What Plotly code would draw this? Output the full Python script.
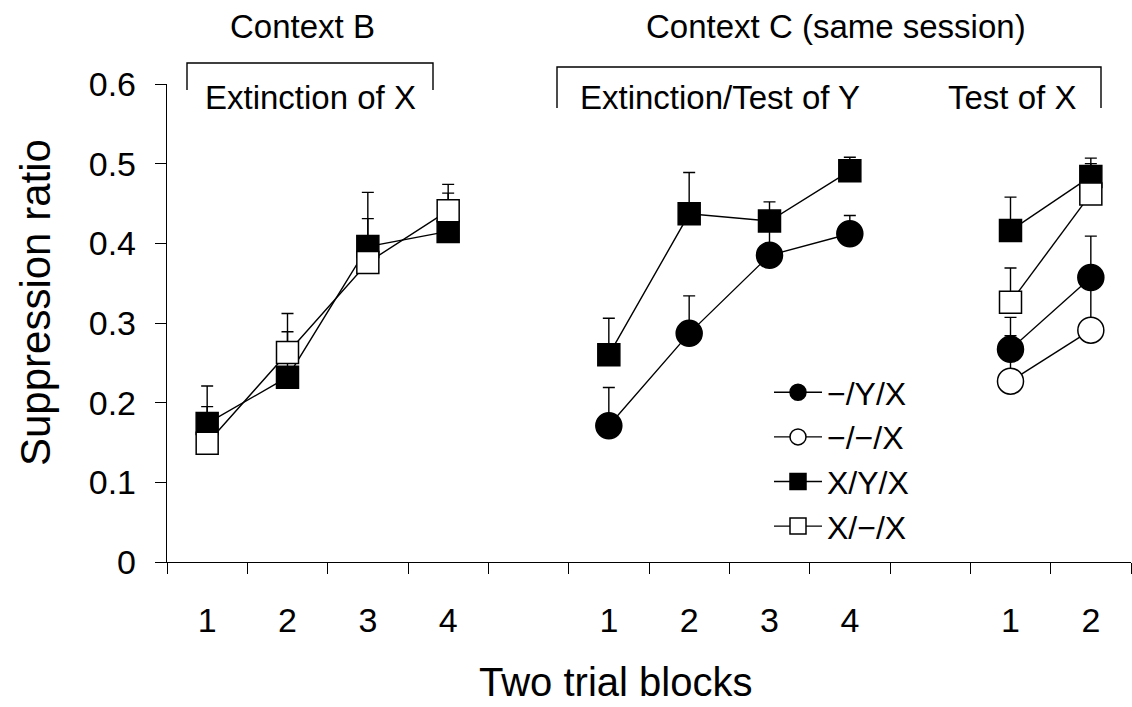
import plotly.graph_objects as go

# ---------------- data ----------------
x_pos = list(range(12))
block_labels = ["1", "2", "3", "4", "", "1", "2", "3", "4", "", "1", "2"]
boundaries = [i - 0.5 for i in range(13)]

series_names = ["\u2212/Y/X", "\u2212/\u2212/X", "X/Y/X", "X/\u2212/X"]

# -/Y/X (filled circles)
y_fc = [None, None, None, None, None, 0.171, 0.287, 0.385, 0.412, None, 0.267, 0.357]
e_fc = [None, None, None, None, None, 0.048, 0.047, 0.035, 0.023, None, 0.017, 0.052]
# -/-/X (open circles)
y_oc = [None, None, None, None, None, None, None, None, None, None, 0.227, 0.291]
e_oc = [None, None, None, None, None, None, None, None, None, None, 0.080, 0.055]
# X/Y/X (filled squares)
y_fs = [0.174, 0.232, 0.396, 0.415, None, 0.260, 0.437, 0.428, 0.491, None, 0.416, 0.484]
e_fs = [0.047, 0.080, 0.068, 0.048, None, 0.046, 0.052, 0.024, 0.017, None, 0.042, 0.023]
# X/-/X (open squares)
y_os = [0.149, 0.263, 0.376, 0.441, None, None, None, None, None, None, 0.326, 0.462]
e_os = [0.046, 0.026, 0.055, 0.033, None, None, None, None, None, None, 0.043, 0.038]

y_ticks = [0, 0.1, 0.2, 0.3, 0.4, 0.5, 0.6]
y_ticktext = ["0", "0.1", "0.2", "0.3", "0.4", "0.5", "0.6"]

FONT = "Liberation Sans, Arial, sans-serif"

# plot area in pixels (for placing decorations)
L, R, T, B = 167, 1, 84, 145
W, H = 1132, 707
PW, PH = W - L - R, H - T - B


def px(xp):
    return (xp - L) / PW


def py(yp):
    return (H - B - yp) / PH


styles = [
    (y_fc, e_fc, "circle", "black", 26),
    (y_oc, e_oc, "circle", "white", 26),
    (y_fs, e_fs, "square", "black", 22),
    (y_os, e_os, "square", "white", 22),
]

fig = go.Figure()
for i, (name, (yv, ev, sym, fill, size)) in enumerate(zip(series_names, styles)):
    fig.add_trace(go.Scatter(
        x=x_pos, y=yv, name=name, mode="lines+markers",
        connectgaps=False,
        line=dict(color="black", width=1.4),
        marker=dict(symbol=sym, size=size, color=fill,
                    line=dict(color="black", width=1.5)),
        error_y=dict(type="data", symmetric=False, array=ev,
                     arrayminus=[0 if v is not None else None for v in ev],
                     color="black", thickness=1.4, width=6),
        hoverinfo="skip",
    ))

fig.update_layout(
    width=W, height=H,
    margin=dict(l=L, r=R, t=T, b=B),
    paper_bgcolor="white", plot_bgcolor="white",
    font=dict(family=FONT, size=33, color="black"),
    showlegend=True,
    legend=dict(x=px(769), y=py(365), xanchor="left", yanchor="top",
                font=dict(size=32, family=FONT), bgcolor="rgba(0,0,0,0)",
                traceorder="normal", itemsizing="trace", itemwidth=48),
    xaxis=dict(range=[-0.5, 11.5], tickmode="array", tickvals=x_pos,
               ticktext=block_labels, ticks="", showgrid=False, zeroline=False,
               showline=True, linecolor="black", linewidth=1.4,
               ticklabelstandoff=28, tickfont=dict(size=34),
               minor=dict(tickmode="array", tickvals=boundaries, ticks="outside",
                          ticklen=11, tickwidth=1.4, tickcolor="black", showgrid=False)),
    yaxis=dict(range=[0, 0.6], tickmode="array", tickvals=y_ticks, ticktext=y_ticktext,
               ticks="outside", ticklen=11, tickwidth=1.4, tickcolor="black",
               showgrid=False, zeroline=False, showline=True, linecolor="black",
               linewidth=1.4, ticklabelstandoff=12, tickfont=dict(size=34)),
)

line = dict(color="black", width=1.4)
# Context B bracket
fig.add_shape(type="path", xref="paper", yref="paper",
              path=f"M {px(187)} {py(90)} L {px(187)} {py(63)} L {px(433)} {py(63)} L {px(433)} {py(90)}",
              line=line)
# Context C bracket
fig.add_shape(type="path", xref="paper", yref="paper",
              path=f"M {px(557)} {py(108)} L {px(557)} {py(67)} L {px(1101)} {py(67)} L {px(1101)} {py(108)}",
              line=line)

ann = [
    ("Context B", 302, 27, "center"),
    ("Context C (same session)", 836, 27, "center"),
    ("Extinction of X", 203, 97, "left"),
    ("Extinction/Test of Y", 578, 97, "left"),
    ("Test of X", 1078, 97, "right"),
]
for text, xx, yy, anchor in ann:
    fig.add_annotation(text=text, x=px(xx), y=py(yy), xref="paper", yref="paper",
                       xanchor=anchor, yanchor="middle", showarrow=False,
                       font=dict(size=33, family=FONT))

fig.add_annotation(text="Two trial blocks", x=px(615), y=py(706), xref="paper", yref="paper",
                   xanchor="center", yanchor="bottom", showarrow=False,
                   font=dict(size=40, family=FONT))
fig.add_annotation(text="Suppression ratio", x=px(35), y=py(303), xref="paper", yref="paper",
                   xanchor="center", yanchor="middle", showarrow=False, textangle=-90,
                   font=dict(size=42, family=FONT))

fig.write_html("out.html")
